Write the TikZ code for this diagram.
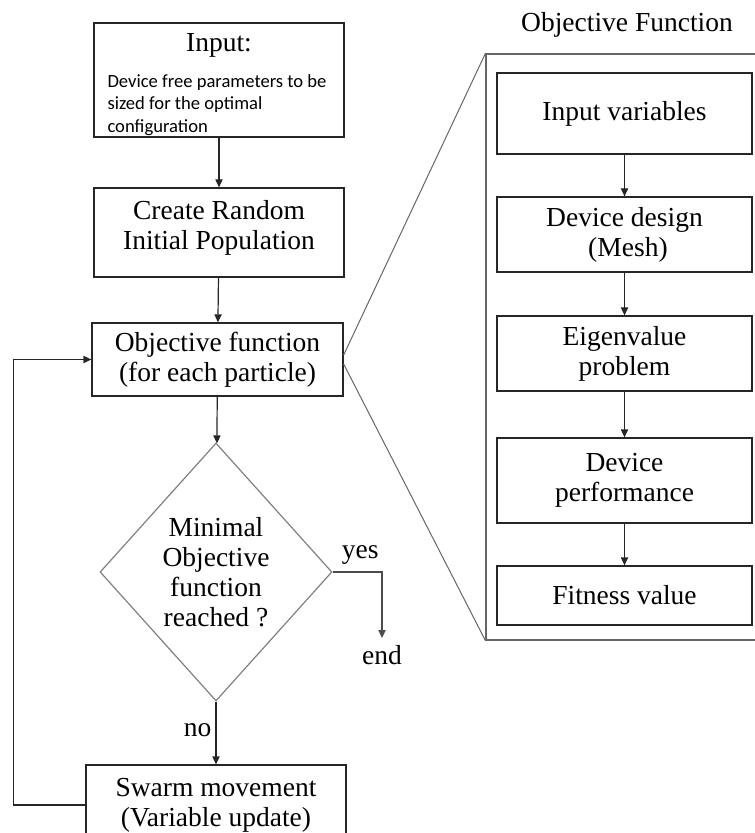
\documentclass[tikz,border=0pt]{standalone}
\usepackage{fontspec}
\setmainfont{Liberation Serif}
\newfontfamily\calibri{Carlito}
\usetikzlibrary{arrows.meta}
\usetikzlibrary{shapes.geometric}

\begin{document}
\begin{tikzpicture}[x=0.5pt,y=-0.5pt,line width=0.6pt,
  font=\fontsize{13.75}{15}\selectfont,
  box/.style={draw=black!85,rectangle,align=center,inner sep=0pt},
  arr/.style={-{Triangle[length=4pt,width=3.6pt]},draw=black!85},
  link/.style={draw=black!60,line width=0.5pt}]

\useasboundingbox (0,0) rectangle (754,833);

% main loop
\node[box,minimum width=125pt,minimum height=57pt] (input) at (219,80)
  {\rule{0pt}{13.5pt}Input:\\[3pt]\parbox[t]{111.5pt}{\raggedright\calibri\fontsize{9.3}{11.2}\selectfont Device free parameters to be sized for the optimal configuration\par}};
\node[box,minimum width=125pt,minimum height=44.5pt] (create) at (219,232.5) {Create Random\\Initial Population\rule[-8pt]{0pt}{0pt}};
\node[box,minimum width=125.5pt,minimum height=36.5pt] (obj) at (217.5,359.5) {Objective function\\(for each particle)};
\node[draw=gray,diamond,align=center,inner sep=0pt,minimum width=116pt,minimum height=129pt] (dec) at (216,572)
  {Minimal\\Objective\\function\\reached ?};
\node[box,minimum width=130pt,minimum height=40pt] (swarm) at (216,805) {Swarm movement\\(Variable update)};
\node (end) at (382,655) {end};

\draw[arr] (input) -- (create);
\draw[arr] (create) -- (obj);
\draw[arr] (obj) -- (dec);
\draw[arr,draw=black!70] (dec.east) -| (end) node[pos=0.28,above]{yes};
\draw[arr] (dec.south) -- node[left,pos=0.45,inner sep=2pt]{no} (swarm.north);
\draw[arr] (swarm.west) -- ++(-72,0) |- (obj.west); %loop back

% objective function detail
\node (title) at (627,25) {Objective Function};
\node[draw=black!60,minimum width=137pt,minimum height=293pt] (panel) at (623,347) {};

\node[box,minimum width=127.5pt,minimum height=40.5pt] (iv) at (624.5,113.5) {Input variables};
\node[box,minimum width=127.5pt,minimum height=37.5pt] (dd) at (624.5,234.5) {Device design\\\ (Mesh)};
\node[box,minimum width=127.5pt,minimum height=37.5pt] (ep) at (624.5,353.5) {Eigenvalue\\problem};
\node[box,minimum width=127.5pt,minimum height=42.5pt] (dp) at (624.5,480.5) {Device\\performance};
\node[box,minimum width=127.5pt,minimum height=29.5pt] (fv) at (624.5,595.5) {Fitness value};

\draw[arr] (iv) -- (dd);
\draw[arr] (dd) -- (ep);
\draw[arr] (ep) -- (dp);
\draw[arr] (dp) -- (fv);

\draw[link] (obj.2) -- (panel.north west);
\draw[link] (obj.-2.5) -- (panel.south west);
\end{tikzpicture}
\end{document}
